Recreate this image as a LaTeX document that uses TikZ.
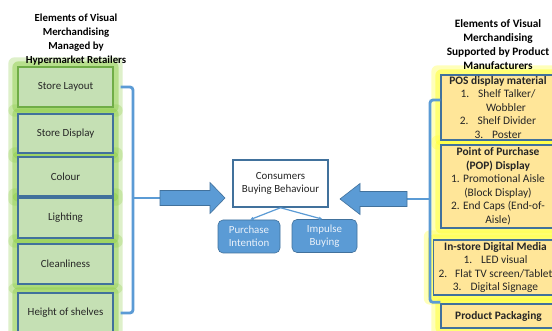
\documentclass[tikz,border=0pt]{standalone}
\usepackage{fontspec}
\setmainfont{Carlito}
\usetikzlibrary{backgrounds,arrows.meta}
\definecolor{vmblue}{HTML}{5B9BD5}
\definecolor{vmdark}{HTML}{41719C}
\definecolor{vmgreen}{HTML}{C5E0B4}
\definecolor{vmgreenedge}{HTML}{70AD47}
\definecolor{vmglowg}{HTML}{92D050}
\definecolor{vmgold}{HTML}{FFE699}
\definecolor{vmglowy}{HTML}{FFFF3C}
\definecolor{vmtext}{HTML}{262626}
\definecolor{vmwhite}{HTML}{EAF1FA}
\begin{document}
\begin{tikzpicture}[x=1pt,y=-1pt,
  every node/.style={font=\fontsize{10.9}{13.5}\selectfont, text=vmtext},
  lbox/.style={draw=vmdark, line width=1.3pt, fill=vmgreen, minimum width=95pt, inner sep=0pt, align=center},
  rbox/.style={draw=vmdark, line width=1.3pt, fill=vmgold, inner sep=0pt, align=center, font=\fontsize{11.4}{13.5}\selectfont},
  ttl/.style={align=center, font=\bfseries\fontsize{10.8}{14}\selectfont, text=black},
  brk/.style={draw=vmblue, line width=2.8pt, rounded corners=3pt},
  bigarrow/.style={fill=vmblue, draw=vmdark, line width=0.6pt},
  outcome/.style={fill=vmblue, draw=vmdark, line width=0.6pt, rounded corners=5pt, inner sep=0pt, align=center, text=vmwhite},
  thin/.style={draw=vmblue, line width=1.2pt, -{Latex[length=3.5pt,width=3.5pt]}},
  glowg/.style={fill=vmglowg, rounded corners=6pt},
  glowy/.style={fill=vmglowy, rounded corners=6pt}
]
\useasboundingbox (0,0) rectangle (552,331);

% titles
\node[ttl] (lt) at (76,40) {Elements of Visual\\Merchandising\\Managed by\\Hypermarket Retailers};
\node[ttl, font=\bfseries\fontsize{11.3}{14}\selectfont] (rt) at (498,45) {Elements of Visual\\Merchandising\\Supported by Product\\Manufacturers};

% left boxes
\node[lbox, draw=vmgreenedge, minimum height=40pt] (sl) at (65.5,87) {Store Layout};
\node[lbox, minimum height=39pt] (sd) at (65.5,133.5) {Store Display};
\node[lbox, minimum height=39pt] (co) at (65.5,176.5) {Colour};
\node[lbox, minimum height=40pt] (li) at (65.5,218) {Lighting};
\node[lbox, minimum height=40pt] (cl) at (65.5,264) {Cleanliness};
\node[lbox, minimum height=40pt] (hs) at (65.5,313) {Height of shelves};

% right boxes
\node[rbox, minimum width=114pt, minimum height=65pt] (pos) at (498,107.5)
  {\textbf{POS display material}\\1.\hspace{9pt}Shelf Talker/\\\hspace*{16pt}Wobbler\\2.\hspace{9pt}Shelf Divider\\3.\hspace{9pt}Poster};
\node[rbox, minimum width=114pt, minimum height=83pt] (pop) at (498,186.5)
  {\textbf{Point of Purchase}\\\textbf{(POP) Display}\\1. Promotional Aisle\\(Block Display)\\2. End Caps (End-of-\\Aisle)};
\node[rbox, minimum width=124pt, minimum height=55pt] (ids) at (495.5,267.5)
  {\textbf{In-store Digital Media}\\1.\hspace{9pt}LED visual\\2.\hspace{8pt}Flat TV screen/Tablet\\3.\hspace{9pt}Digital Signage};
\node[rbox, minimum width=115pt, minimum height=24pt] (pp) at (498.5,316) {\textbf{Product Packaging}};

% background and glows
\begin{scope}[on background layer]
  \fill[white] (0,0) rectangle (552,331);
  \foreach \n in {sl,sd,co,li,cl,hs} {
    \fill[glowg, opacity=.3] ([shift={(-9pt,9pt)}]\n.north west) rectangle ([shift={(9pt,-9pt)}]\n.south east);
    \fill[glowg, opacity=.5] ([shift={(-5pt,5pt)}]\n.north west) rectangle ([shift={(5pt,-5pt)}]\n.south east);
  }
  \foreach \n in {pos,pop,ids,pp} {
    \fill[glowy, opacity=.35] ([shift={(-9pt,9pt)}]\n.north west) rectangle ([shift={(9pt,-9pt)}]\n.south east);
    \fill[glowy, opacity=.55] ([shift={(-5pt,5pt)}]\n.north west) rectangle ([shift={(5pt,-5pt)}]\n.south east);
  }
\end{scope}

% centre
\node[draw=vmdark, line width=1.5pt, fill=white, minimum width=95pt, minimum height=47pt, inner sep=0pt, align=center, font=\fontsize{10.9}{13}\selectfont] (cb) at (280.5,183.5)
  {Consumers\\Buying Behaviour};
\node[outcome, minimum width=62pt, minimum height=33pt] (pi) at (249,236.5) {Purchase\\Intention};
\node[outcome, minimum width=65pt, minimum height=33pt] (ib) at (324.5,236) {Impulse\\Buying};
\draw[thin] (cb.south) -- ([xshift=1pt]pi.north);
\draw[thin] (cb.south) -- ([xshift=-2pt]ib.north);

% brackets
\coordinate (bl) at (133,198);
\coordinate (laT) at (160,198);
\coordinate (br) at (430,199);
\coordinate (raT) at (407,199);
\draw[brk] ([xshift=7pt]sl.east) -| (bl) |- ([xshift=7pt]hs.east);
\draw[brk] (bl) -- (laT);
\draw[brk] ([yshift=7.5pt]pos.west) -| (br) |- ([yshift=1pt]pp.north west);
\draw[brk] (br) -- (raT);

% big arrows
\draw[bigarrow] (laT) ++(0,-7.5) -- ++(50,0) -- ++(0,-8) -- ++(15,15.5) -- ++(-15,15.5) -- ++(0,-8) -- ++(-50,0) -- cycle;
\draw[bigarrow] (raT) ++(0,-7.5) -- ++(-47,0) -- ++(0,-8) -- ++(-20,15.5) -- ++(20,15.5) -- ++(0,-8) -- ++(47,0) -- cycle;
\end{tikzpicture}
\end{document}
